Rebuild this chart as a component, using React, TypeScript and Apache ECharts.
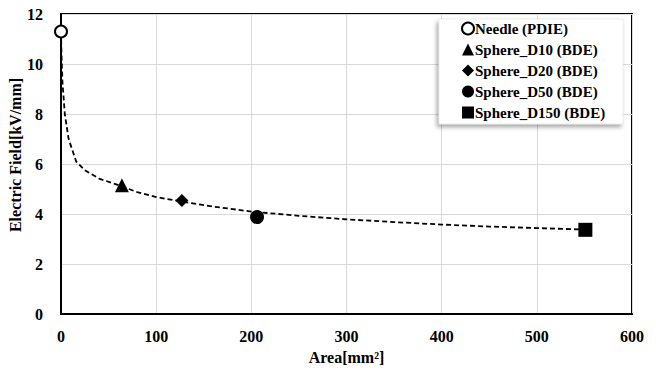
import React, { useEffect, useRef } from "react";
import * as echarts from "echarts";

const markerNames = [
  "Needle (PDIE)",
  "Sphere_D10 (BDE)",
  "Sphere_D20 (BDE)",
  "Sphere_D50 (BDE)",
  "Sphere_D150 (BDE)",
];
const markerSymbols = ["circle", "triangle", "diamond", "circle", "rect"];
const markerAreas = [0, 64, 127, 206, 551];
const markerFields = [11.3, 5.15, 4.54, 3.88, 3.37];

const fitAreas = [0, 0.5, 1.5, 4, 8, 16, 25, 40, 63, 80, 100, 127, 160, 200, 250, 300, 350, 400, 450, 500, 550];
const fitFields = [11.3, 10.4, 9.3, 8.0, 7.0, 6.1, 5.75, 5.42, 5.12, 4.88, 4.68, 4.5, 4.3, 4.1, 3.93, 3.79, 3.68, 3.58, 3.5, 3.44, 3.38];

const FONT = "Liberation Serif";

export default function App() {
  const ref = useRef<HTMLDivElement>(null);
  useEffect(() => {
    document.body.style.margin = "0";
    if (!ref.current) return;
    const chart = echarts.init(ref.current, undefined, { renderer: "svg" });
    const markerSeries = markerNames.map((name, i) => ({
      name,
      type: "scatter",
      symbol: markerSymbols[i],
      symbolSize: i === 0 ? 12 : i === 1 ? 14 : i === 2 ? 13 : 14,
      z: 5,
      itemStyle:
        i === 0
          ? { color: "#fff", borderColor: "#000", borderWidth: 2, opacity: 1 }
          : { color: "#000", opacity: 1 },
      data: [[markerAreas[i], markerFields[i]]],
    }));
    chart.setOption({
      animation: false,
      textStyle: { fontFamily: FONT },
      grid: {
        left: 61,
        right: 24,
        top: 14,
        bottom: 48,
        show: true,
        borderColor: "#000",
        borderWidth: 2,
        backgroundColor: "transparent",
      },
      xAxis: {
        type: "value",
        min: 0,
        max: 600,
        interval: 100,
        name: "Area[mm²]",
        nameLocation: "middle",
        nameGap: 27,
        nameTextStyle: { fontFamily: FONT, fontWeight: "bold", fontSize: 16, color: "#000" },
        axisLine: { show: true, lineStyle: { color: "#000", width: 2 } },
        axisTick: { show: false },
        axisLabel: { margin: 14, fontFamily: FONT, fontWeight: "bold", fontSize: 16, color: "#000" },
        splitLine: { show: true, lineStyle: { color: "#d9d9d9", width: 1 } },
      },
      yAxis: {
        type: "value",
        min: 0,
        max: 12,
        interval: 2,
        axisLine: { show: true, lineStyle: { color: "#000", width: 2 } },
        axisTick: { show: false },
        axisLabel: { margin: 18, fontFamily: FONT, fontWeight: "bold", fontSize: 16, color: "#000" },
        splitLine: { show: true, lineStyle: { color: "#d9d9d9", width: 1 } },
      },
      graphic: [
        {
          type: "text",
          x: 15,
          y: 155,
          rotation: Math.PI / 2,
          style: {
            text: "Electric Field[kV/mm]",
            fontFamily: FONT,
            fontWeight: "bold",
            fontSize: 16,
            fill: "#000",
            align: "center",
            verticalAlign: "middle",
          },
        },
      ],
      legend: {
        data: markerNames,
        orient: "vertical",
        left: 439,
        top: 19,
        padding: [2, 18, 4, 22],
        itemWidth: 12,
        itemHeight: 12,
        itemGap: 6,
        backgroundColor: "#fff",
        borderColor: "#d9d9d9",
        borderWidth: 0.5,
        shadowColor: "rgba(0,0,0,0.35)",
        shadowBlur: 4,
        shadowOffsetX: -2,
        shadowOffsetY: 3,
        textStyle: { fontFamily: FONT, fontWeight: "bold", fontSize: 15, color: "#000", padding: [0, 0, 0, -4] },
      },
      series: [
        {
          name: "fit",
          type: "line",
          showSymbol: false,
          symbol: "none",
          z: 2,
          lineStyle: { color: "#000", width: 1.8, type: [5, 3] },
          data: fitAreas.map((a, i) => [a, fitFields[i]]),
        },
        ...markerSeries,
      ],
    });
    return () => chart.dispose();
  }, []);
  return <div ref={ref} style={{ width: 656, height: 370 }} />;
}
